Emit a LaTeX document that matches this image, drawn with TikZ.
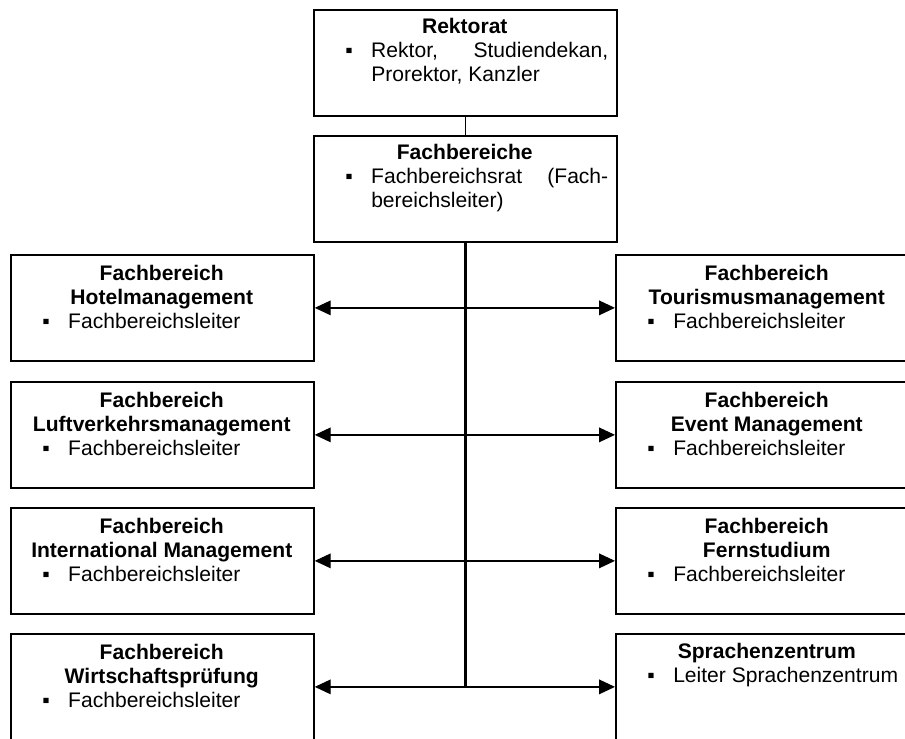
\documentclass[tikz,border=0pt]{standalone}
\usepackage{fontspec}
\setmainfont{Liberation Sans}
\usepackage{tikz}
\usetikzlibrary{arrows.meta,calc}
\newcommand{\fbinhalt}[2]{%
  {\centering\bfseries #1\par}%
  {\leftskip=43.5pt\rightskip=6pt\relax
  \hspace*{-19.5pt}\makebox[19.5pt][l]{▪}#2\par}}

\begin{document}
\begin{tikzpicture}[x=0.75pt,y=-0.75pt,font=\fontsize{15.8}{18}\selectfont]
\tikzstyle{kasten}=[draw,line width=1.3pt,minimum width=227.25pt,minimum height=79.5pt,anchor=north west,inner sep=0pt]
\tikzstyle{kastentext}=[anchor=base west,inner sep=0pt,text width=227.25pt,align=justify]
\tikzstyle{pfeil}=[{Triangle[length=12pt,width=11pt]}-{Triangle[length=12pt,width=11pt]},line width=1pt]

\useasboundingbox (0,0) rectangle (905,738);
\clip (0,0) rectangle (905,738);

\node[kasten] (rektorat) at (313,9) {};
\node[kasten] (fb) at (313,135) {};
\node[kasten] (hotel) at (10,254) {};
\node[kasten] (tourismus) at (615,254) {};
\node[kasten] (luftverkehr) at (10,381) {};
\node[kasten] (event) at (615,381) {};
\node[kasten] (intl) at (10,507) {};
\node[kasten] (fern) at (615,507) {};
\node[kasten] (wirtschaft) at (10,633) {};
\node[kasten] (sprache) at (615,633) {};

\node[kastentext] at ($(rektorat.north west)+(0,25)$)
  {\fbinhalt{Rektorat}{Rektor,\hfill Studiendekan,\\Prorektor, Kanzler}};
\node[kastentext] at ($(fb.north west)+(0,24)$)
  {\fbinhalt{Fachbereiche}{Fachbereichsrat\hfill (Fach-\\bereichsleiter)}};
\node[kastentext] at ($(hotel.north west)+(0,26)$)
  {\fbinhalt{Fachbereich\\Hotelmanagement}{Fachbereichsleiter}};
\node[kastentext] at ($(tourismus.north west)+(0,26)$)
  {\fbinhalt{Fachbereich\\Tourismusmanagement}{Fachbereichsleiter}};
\node[kastentext] at ($(luftverkehr.north west)+(0,26)$)
  {\fbinhalt{Fachbereich\\Luftverkehrsmanagement}{Fachbereichsleiter}};
\node[kastentext] at ($(event.north west)+(0,26)$)
  {\fbinhalt{Fachbereich\\Event Management}{Fachbereichsleiter}};
\node[kastentext] at ($(intl.north west)+(0,26)$)
  {\fbinhalt{Fachbereich\\International Management}{Fachbereichsleiter}};
\node[kastentext] at ($(fern.north west)+(0,26)$)
  {\fbinhalt{Fachbereich\\Fernstudium}{Fachbereichsleiter}};
\node[kastentext] at ($(wirtschaft.north west)+(0,26)$)
  {\fbinhalt{Fachbereich\\Wirtschaftsprüfung}{Fachbereichsleiter}};
\node[kastentext] at ($(sprache.north west)+(0,25)$)
  {\fbinhalt{Sprachenzentrum}{Leiter Sprachenzentrum}};

% Verbindungen
\draw[line width=0.9pt] (rektorat) -- (fb);
\draw[line width=2pt] (fb.south) -- (fb.south |- wirtschaft.east);
\foreach \links/\rechts in {hotel/tourismus,luftverkehr/event,intl/fern,wirtschaft/sprache}
  \draw[pfeil] (\links.east) -- (\rechts.west);
\end{tikzpicture}
\end{document}
